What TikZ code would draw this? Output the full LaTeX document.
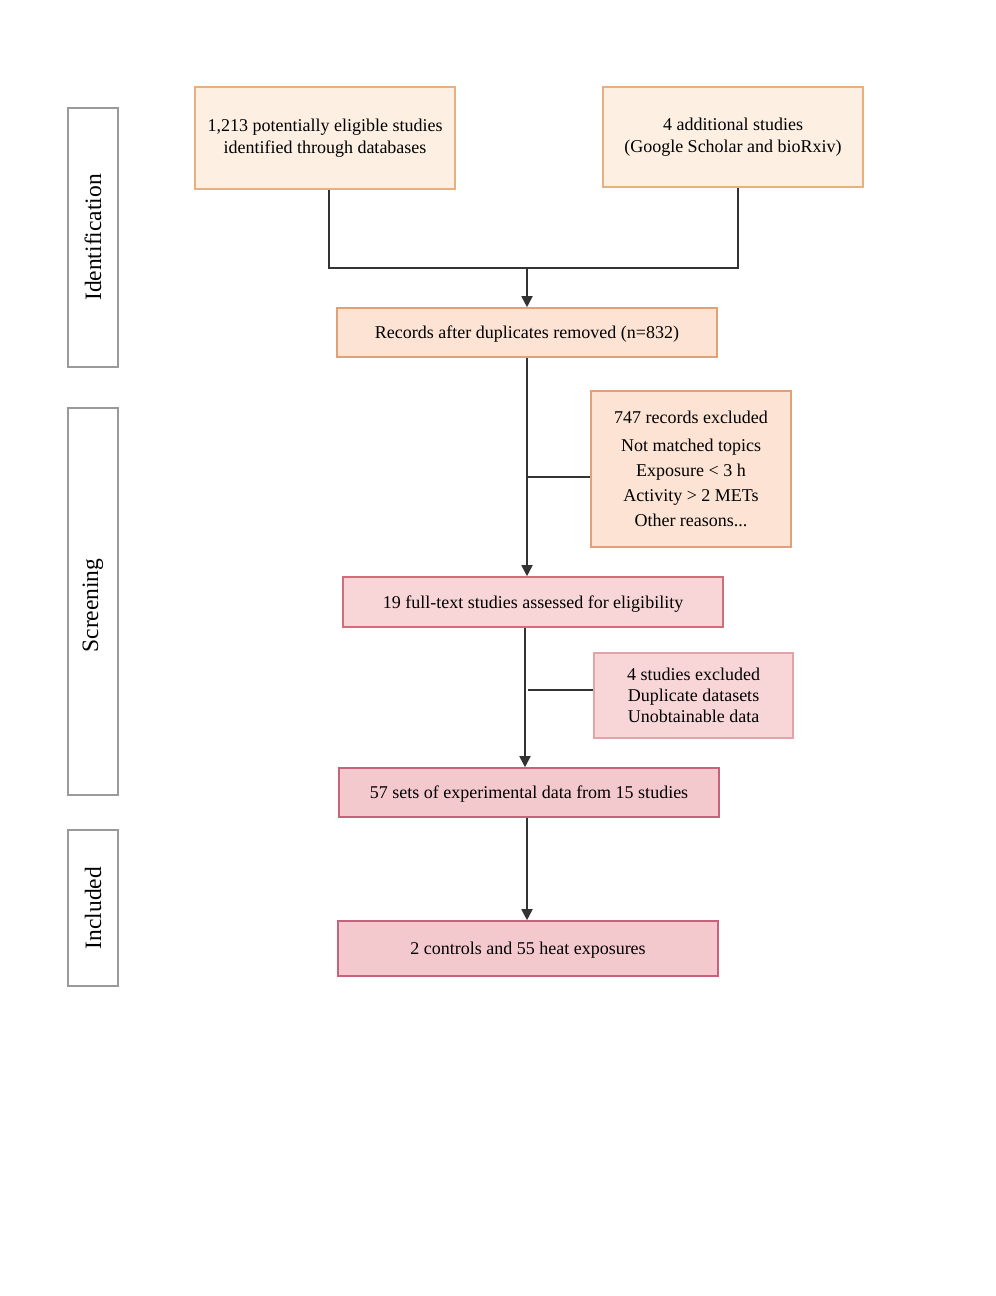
\documentclass[tikz,border=0pt]{standalone}
\usepackage{fontspec}
\setmainfont{Liberation Serif}
\usetikzlibrary{arrows.meta}
\definecolor{fillA}{HTML}{FDF0E3}
\definecolor{bordA}{HTML}{E8B07E}
\definecolor{fillB}{HTML}{FCE3D3}
\definecolor{bordB}{HTML}{E2A078}
\definecolor{fillC}{HTML}{F8D6D7}
\definecolor{bordC}{HTML}{D06E7A}
\definecolor{bordC2}{HTML}{E3A3AB}
\definecolor{fillD}{HTML}{F4C9CE}
\definecolor{bordD}{HTML}{C8627A}
\definecolor{linec}{HTML}{333333}
\definecolor{sideb}{HTML}{9A9A9A}
\tikzset{
  box/.style={draw, line width=1.6pt, inner sep=0pt, align=center, font=\fontsize{18}{22}\selectfont},
  onebox/.style={box, text depth=0pt},
  side/.style={draw=sideb, line width=1.4pt, inner sep=0pt},
  sidetext/.style={rotate=90, font=\fontsize{23.5}{26}\selectfont},
  conn/.style={draw=linec, line width=1.8pt},
  arr/.style={conn, -{Triangle[length=11pt,width=11pt]}},
}
\begin{document}
\begin{tikzpicture}[x=1pt,y=-1pt]
\useasboundingbox (0,0) rectangle (996,1296);
% side labels
\node[side, minimum width=50pt, minimum height=259pt] (sid) at (93,237.5) {};
\node[sidetext] (sidt) at (sid.center) {Identification};
\node[side, minimum width=50pt, minimum height=387pt] (ssc) at (93,601.5) {};
\node[sidetext] (ssct) at ([yshift=-4pt]ssc.center) {Screening};
\node[side, minimum width=50pt, minimum height=156pt] (sin) at (93,908) {};
\node[sidetext] (sint) at (sin.center) {Included};
% boxes
\node[box, fill=fillA, draw=bordA, minimum width=260pt, minimum height=102pt] (A) at (325,138) {1,213 potentially eligible studies\\identified through databases};
\node[box, fill=fillA, draw=bordA, minimum width=260pt, minimum height=100pt] (B) at (733,137) {4 additional studies\\(Google Scholar and bioRxiv)};
\node[onebox, fill=fillB, draw=bordB, minimum width=380pt, minimum height=49pt] (rec) at (527,332.5) {Records after duplicates removed (n=832)};
\node[box, fill=fillB, draw=bordB, minimum width=200pt, minimum height=156pt] (ex1) at (691,469) {747 records excluded\\[6pt]Not matched topics\\[3pt]Exposure {<} 3 h\\[3pt]Activity {>} 2 METs\\[3pt]Other reasons...};
\node[onebox, fill=fillC, draw=bordC, minimum width=380pt, minimum height=50pt] (ft) at (533,602) {19 full-text studies assessed for eligibility};
\node[box, fill=fillC, draw=bordC2, line width=1.2pt, minimum width=199pt, minimum height=85pt] (ex2) at (693.5,695.5) {4 studies excluded\\[-1pt]Duplicate datasets\\[-1pt]Unobtainable data};
\node[onebox, fill=fillD, draw=bordD, minimum width=380pt, minimum height=49pt] (s57) at (529,792.5) {57 sets of experimental data from 15 studies};
\node[onebox, fill=fillD, draw=bordD, minimum width=380pt, minimum height=55pt] (fin) at (528,948.5) {2 controls and 55 heat exposures};
% connectors
\coordinate (j) at (527,268);
\draw[conn] (A.south -| 329,0) |- (j) -| (B.south -| 738,0);
\draw[arr] (j) -- (rec.north);
\draw[arr] (rec.south) -- (rec.south |- ft.north);
\coordinate (b1) at (527,477);
\draw[conn] (b1) -- (b1 -| ex1.west);
\draw[arr] (ft.south -| 525,0) -- (s57.north -| 525,0);
\coordinate (b2) at (528,690);
\draw[conn] (b2) -- (b2 -| ex2.west);
\draw[arr] (s57.south -| 527,0) -- (fin.north -| 527,0);
\end{tikzpicture}
\end{document}
